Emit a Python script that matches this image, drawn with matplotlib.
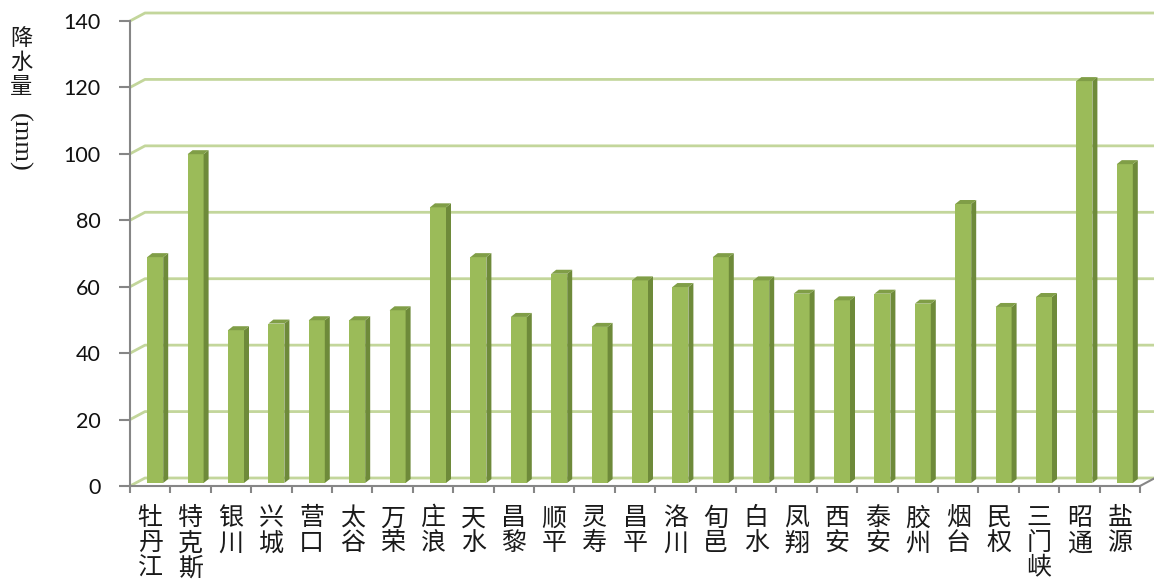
import matplotlib
matplotlib.use("Agg")
import matplotlib.pyplot as plt
from matplotlib.patches import Polygon

plt.rcParams['font.family'] = ['Noto Sans CJK SC', 'DejaVu Sans']

stations = ["牡丹江", "特克斯", "银川", "兴城", "营口", "太谷", "万荣", "庄浪", "天水",
            "昌黎", "顺平", "灵寿", "昌平", "洛川", "旬邑", "白水", "凤翔", "西安",
            "泰安", "胶州", "烟台", "民权", "三门峡", "昭通", "盐源"]
rain = [68, 99, 46, 48, 49, 49, 52, 83, 68, 50, 63, 47, 61, 59, 68, 61, 57, 55,
        57, 54, 84, 53, 56, 121, 96]
yticks = [0, 20, 40, 60, 80, 100, 120, 140]

W, H = 1154, 586
fig = plt.figure(figsize=(W / 100, H / 100), dpi=100)
x0, x1, y0, y1 = 130, 1140, 486, 21
ax = fig.add_axes([x0 / W, 1 - y0 / H, (x1 - x0) / W, (y0 - y1) / H])
n = len(stations)
ax.set_xlim(-0.5, n - 0.5)
ax.set_ylim(0, 140)

# pixel -> data helpers for the fake 3d look
pxx = (n) / (x1 - x0)
pxy = 140 / (y0 - y1)
dx, dy = 15 * pxx, 8 * pxy          # back wall offset
sx, sy = 5 * pxx, 4 * pxy           # bar depth
base = 3 * pxy

grid_c = "#C3D69B"
for v in yticks:
    ax.plot([-0.5, -0.5 + dx, n - 0.5 + dx + 0.2], [v, v + dy, v + dy],
            color=grid_c, lw=2, clip_on=False, zorder=1, solid_capstyle="butt")
ax.plot([n - 0.5, n - 0.5 + dx], [0, dy], color="#868686", lw=1.5, clip_on=False, zorder=2)

front, side, top = "#9BBB59", "#6E8A3A", "#809E47"
bw = 16 * pxx
off = -3 * pxx
xs = [i + off for i in range(n)]
ax.bar(xs, rain, width=bw, bottom=base, align="edge", color=front,
       edgecolor="none", zorder=3)
for xl, v in zip(xs, rain):
    xr = xl + bw
    t = base + v
    ax.add_patch(Polygon([(xr, base), (xr + sx, base + sy), (xr + sx, t + sy), (xr, t)],
                         closed=True, facecolor=side, edgecolor="none", zorder=3))
    ax.add_patch(Polygon([(xl, t), (xl + sx, t + sy), (xr + sx, t + sy), (xr, t)],
                         closed=True, facecolor=top, edgecolor="none", zorder=3))

for s in ["top", "right"]:
    ax.spines[s].set_visible(False)
for s in ["left", "bottom"]:
    ax.spines[s].set_color("#868686")
    ax.spines[s].set_linewidth(1.5)
    ax.spines[s].set_zorder(4)

ax.set_yticks(yticks)
ax.set_yticklabels([str(v) for v in yticks], family="Lato", fontsize=15.5, color="#111111")
ax.tick_params(axis="y", length=8, width=1.5, color="#868686", pad=13)

ax.set_xticks([i - 0.5 for i in range(n + 1)])
ax.set_xticklabels([])
ax.tick_params(axis="x", which="major", length=5, width=1.5, color="#868686")
ax.set_xticks(range(n), minor=True)
ax.set_xticklabels(["\n".join(s) for s in stations], minor=True, fontsize=18,
                   color="#1a1a1a", linespacing=0.95)
ax.tick_params(axis="x", which="minor", length=0, pad=14)

fig.text(21 / W, 1 - 27 / H, "降\n水\n量", ha="center", va="top", fontsize=16,
         linespacing=1.05, color="#1a1a1a")
fig.text(19 / W, 1 - 142 / H, "(mm)", ha="center", va="center", rotation=-90,
         fontsize=19, family=["Liberation Serif"], color="#1a1a1a")

fig.savefig("out.png", dpi=100, facecolor="white")
